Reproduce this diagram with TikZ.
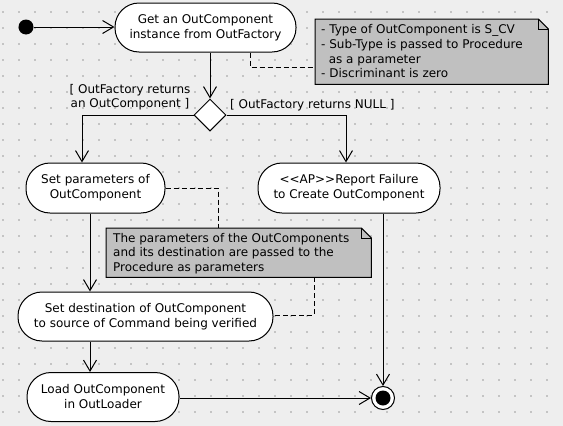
\documentclass[tikz,border=0pt]{standalone}
\usepackage{fontspec}
\setmainfont{DejaVu Sans}
\usetikzlibrary{arrows.meta,shapes.geometric,calc}
\definecolor{bgc}{HTML}{EEEEEE}
\definecolor{dotc}{HTML}{C4C4C4}
\definecolor{notec}{HTML}{C0C0C0}
\begin{document}
\begin{tikzpicture}[x=1pt,y=-1pt,
  act/.style={draw=black, fill=white, line width=1pt, rounded corners=24pt,
    inner sep=0pt, align=center, font=\fontsize{12}{15}\selectfont},
  notetext/.style={anchor=north west, inner sep=0pt, align=left,
    font=\fontsize{12}{14.6}\selectfont},
  guard/.style={inner sep=0pt, font=\fontsize{12}{14.5}\selectfont},
  notebox/.style={fill=notec, draw=black, line width=1pt},
  flow/.style={draw=black, line width=1pt, -{Straight Barb[length=11pt,width=13pt,line width=1pt]}},
  conn/.style={draw=black, line width=1pt, dash pattern=on 5pt off 3pt},
]
\useasboundingbox (0,0) rectangle (563,426);
\fill[bgc] (0,0) rectangle (563,426);
\foreach \i in {0,...,34}{
  \foreach \j in {0,...,26}{
    \fill[dotc] ({3+16*\i-0.6},{12+16*\j-0.6}) rectangle ++(1.4,1.4);
  }
}

% notes (placeholders + shapes)
\node[minimum width=233, minimum height=65, inner sep=0pt, anchor=north west] (note1) at (315,19) {};
\draw[notebox] (note1.north west) -- ($(note1.north east)+(-10,0)$) -- ($(note1.north east)+(0,10)$)
  -- (note1.south east) -- (note1.south west) -- cycle;
\draw[line width=1pt] ($(note1.north east)+(-10,0)$) -- ($(note1.north east)+(-10,10)$) -- ($(note1.north east)+(0,10)$);
\node[notetext] (t1) at (321,24.5) {- Type of OutComponent is S\_CV\\- Sub-Type is passed to Procedure\\\ \ as a parameter\\- Discriminant is zero};

\node[minimum width=265, minimum height=49, inner sep=0pt, anchor=north west] (note2) at (106,228) {};
\draw[notebox] (note2.north west) -- ($(note2.north east)+(-10,0)$) -- ($(note2.north east)+(0,10)$)
  -- (note2.south east) -- (note2.south west) -- cycle;
\draw[line width=1pt] ($(note2.north east)+(-10,0)$) -- ($(note2.north east)+(-10,10)$) -- ($(note2.north east)+(0,10)$);
\node[notetext] (t2) at (113,233) {The parameters of the OutComponents\\and its destination are passed to the\\Procedure as parameters};

% activity nodes
\node[circle, fill=black, minimum size=15, inner sep=0pt] (init) at (26,27) {};
\node[act, minimum width=181, minimum height=49] (n1) at (205.5,27.5) {Get an OutComponent\\instance from OutFactory};
\node[diamond, draw=black, fill=white, line width=1pt, minimum width=32, minimum height=32, inner sep=0pt] (dia) at (210,115) {};
\node[act, minimum width=139, minimum height=50] (n2) at (95.5,188) {Set parameters of\\OutComponent};
\node[act, minimum width=182, minimum height=50] (n3) at (349,188) {{<}{<}AP{>}{>}Report Failure\\to Create OutComponent};
\node[act, minimum width=255, minimum height=49] (n4) at (145.5,316.5) {Set destination of OutComponent\\to source of Command being verified};
\node[act, minimum width=152, minimum height=49] (n5) at (103,397) {Load OutComponent\\in OutLoader};
\node[circle, draw=black, fill=white, line width=1pt, minimum size=23, inner sep=0pt] (fin) at (383,398) {};
\fill[black] (fin.center) circle (7.5);

% guards
\node[guard, align=center] (g1) at (130,97) {[ OutFactory returns\\an OutComponent ]};
\node[guard, anchor=base west] (g2) at (230,108) {[ OutFactory returns NULL ]};

% helper coordinates
\coordinate (b1) at (82,115);
\coordinate (b2) at (346,115);
\coordinate (c90) at (90,0);
\coordinate (c382) at (382,0);
\coordinate (d1) at (250,67);
\coordinate (d2) at (218,188);
\coordinate (d3) at (314,315);

% flows
\draw[flow] (init.east) -- (init.east -| n1.west);
\draw[flow] (n1.south -| dia.north) -- (dia.north);
\draw[flow] (dia.west) -- (b1) -- (b1 |- n2.north);
\draw[flow] (dia.east) -- (b2) -- (b2 |- n3.north);
\draw[flow] (n2.south -| c90) -- (n4.north -| c90);
\draw[flow] (n4.south -| c90) -- (n5.north -| c90);
\draw[flow] (fin.west -| n5.east) -- (fin.west);
\draw[flow] (n3.south -| fin.north) -- (fin.north);

% note connectors
\draw[conn] (n1.south -| d1) -- (d1) -- (d1 -| note1.west);
\draw[conn] (n2.east |- d2) -- (d2) -- (d2 |- note2.north);
\draw[conn] (note2.south -| d3) -- (d3) -- (d3 -| n4.east);
\end{tikzpicture}
\end{document}
